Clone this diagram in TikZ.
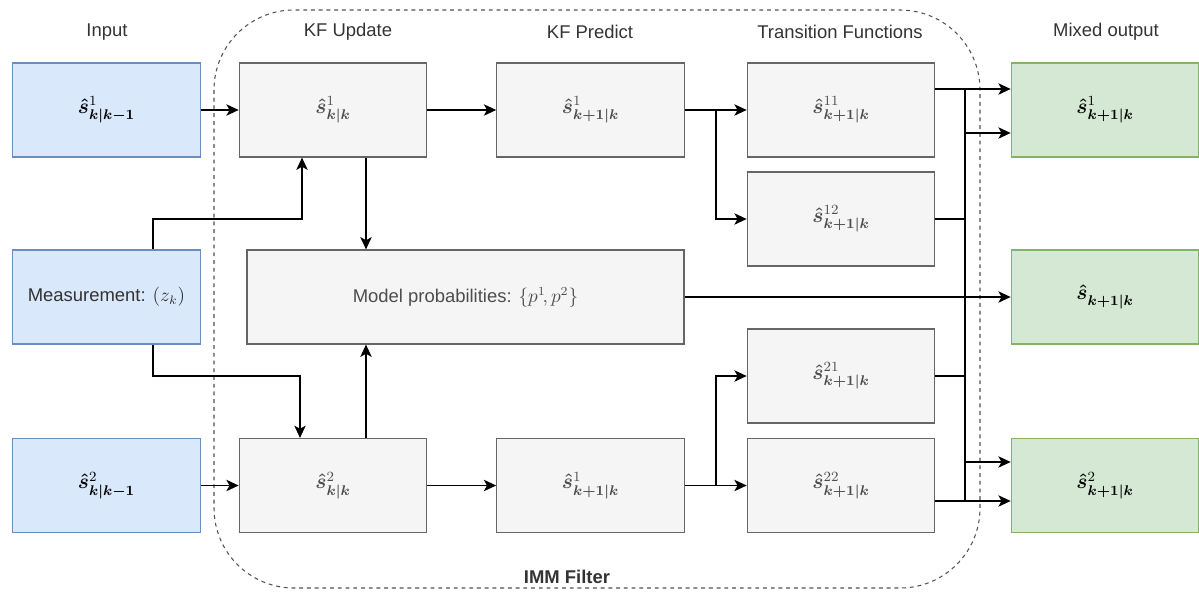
\documentclass[tikz,border=0pt]{standalone}
\usepackage{amsmath,bm}
\usepackage[no-math]{fontspec}
\setmainfont{Liberation Sans}
\usetikzlibrary{arrows.meta,calc}

\definecolor{txt}{HTML}{333333}
\definecolor{graytxt}{HTML}{4D4D4D}
\definecolor{bluefill}{HTML}{DAE8FC}
\definecolor{bluedraw}{HTML}{6C8EBF}
\definecolor{grayfill}{HTML}{F5F5F5}
\definecolor{graydraw}{HTML}{666666}
\definecolor{greenfill}{HTML}{D5E8D4}
\definecolor{greendraw}{HTML}{82B366}

\tikzset{
  box/.style={rectangle, inner sep=0pt, line width=0.7pt,
    minimum width=3.75cm, minimum height=1.88cm,
    font=\fontsize{10.5}{12}\selectfont},
  inbox/.style={box, fill=bluefill, draw=bluedraw, text=black},
  kfbox/.style={box, fill=grayfill, draw=graydraw, text=graytxt},
  outbox/.style={box, fill=greenfill, draw=greendraw, text=black},
  header/.style={font=\fontsize{10.5}{12}\selectfont, text=txt},
  arr/.style={line width=0.65pt, -{Stealth[length=7pt,width=6.5pt,inset=1.8pt]}},
  link/.style={line width=0.65pt},
  frame/.style={draw=txt!85, line width=0.6pt, dash pattern=on 2.2pt off 2.2pt,
    rounded corners=1.6cm}
}
\newcommand{\est}[2]{$\boldsymbol{\hat{s}}^{#1}_{\boldsymbol{#2}}$}
\newcommand{\mathsz}{\fontsize{11.5}{13}\selectfont}

\begin{document}
\begin{tikzpicture}[x=0.02cm, y=-0.02cm]
\useasboundingbox (0,0) rectangle (1199,592);

% IMM filter frame
\draw[frame] (214,10) rectangle (980,588);
\node[header, font=\fontsize{10.5}{12}\selectfont\bfseries] (immlabel) at (567,577) {IMM Filter};

% column headers
\node[header] (hin)  at (107,32)  {Input};
\node[header] (hup)  at (348,32)  {KF Update};
\node[header] (hpr)  at (590,32)  {KF Predict};
\node[header] (htf)  at (840,32)  {Transition Functions};
\node[header] (hout) at (1106,32) {Mixed output};

% inputs
\node[inbox] (in1)  at (106.5,110)   {\mathsz\est{1}{k|k-1}};
\node[inbox, text=txt] (meas) at (106.5,297) {Measurement: $(z_k)$};
\node[inbox] (in2)  at (106.5,485.5) {\mathsz\est{2}{k|k-1}};

% Kalman filter update / predict
\node[kfbox] (up1) at (333,110)   {\mathsz\est{1}{k|k}};
\node[kfbox] (up2) at (333,485.5) {\mathsz\est{2}{k|k}};
\node[kfbox, minimum width=8.74cm] (mp) at (465.5,297)
  {Model probabilities: $\{p^1\!,p^2\}$};
\node[kfbox] (pr1) at (590.5,110)   {\mathsz\est{1}{k+1|k}};
\node[kfbox] (pr2) at (590.5,485.5) {\mathsz\est{1}{k+1|k}};

% transition functions
\node[kfbox] (t11) at (841,110)   {\mathsz\est{11}{k+1|k}};
\node[kfbox] (t12) at (841,219)   {\mathsz\est{12}{k+1|k}};
\node[kfbox] (t21) at (841,376)   {\mathsz\est{21}{k+1|k}};
\node[kfbox] (t22) at (841,485.5) {\mathsz\est{22}{k+1|k}};

% mixed outputs
\node[outbox] (out1) at (1105,110)   {\mathsz\est{1}{k+1|k}};
\node[outbox] (out2) at (1105,297)   {\mathsz\est{}{k+1|k}};
\node[outbox] (out3) at (1105,485.5) {\mathsz\est{2}{k+1|k}};

% routing columns and rows
\coordinate (xm)   at (153,0);
\coordinate (xa)   at (302,0);
\coordinate (xb)   at (300,0);
\coordinate (xc)   at (366,0);
\coordinate (xs)   at (716,0);
\coordinate (xbus) at (965,0);
\coordinate (yu)   at (0,219);
\coordinate (yl)   at (0,376);
\coordinate (y1a)  at (0,89);
\coordinate (y1b)  at (0,133);
\coordinate (y3a)  at (0,462);
\coordinate (y3b)  at (0,501);

% inputs into the filter
\draw[arr] (in1) -- (up1);
\draw[arr] (in2) -- (up2);
\draw[arr] (meas.north -| xm) |- (xa |- yu) -- (up1.south -| xa);
\draw[arr] (meas.south -| xm) |- (xb |- yl) -- (up2.north -| xb);

% model probabilities
\draw[arr] (up1.south -| xc) -- (mp.north -| xc);
\draw[arr] (up2.north -| xc) -- (mp.south -| xc);
\draw[arr] (mp) -- (out2);

% update -> predict -> transitions
\draw[arr] (up1) -- (pr1);
\draw[arr] (up2) -- (pr2);
\draw[arr] (pr1) -- (t11);
\draw[arr] (pr1.east -| xs) |- (t12.west);
\draw[arr] (pr2) -- (t22);
\draw[arr] (pr2.east -| xs) |- (t21.west);

% mixing bus
\draw[link] (xbus |- y1a) -- (xbus |- y3b);
\draw[arr] (t11.east |- y1a) -- (out1.west |- y1a);
\draw[arr] (xbus |- y1b) -- (out1.west |- y1b);
\draw[link] (t12.east) -- (t12.east -| xbus);
\draw[link] (t21.east) -- (t21.east -| xbus);
\draw[arr] (t22.east |- y3b) -- (out3.west |- y3b);
\draw[arr] (xbus |- y3a) -- (out3.west |- y3a);
\end{tikzpicture}
\end{document}
